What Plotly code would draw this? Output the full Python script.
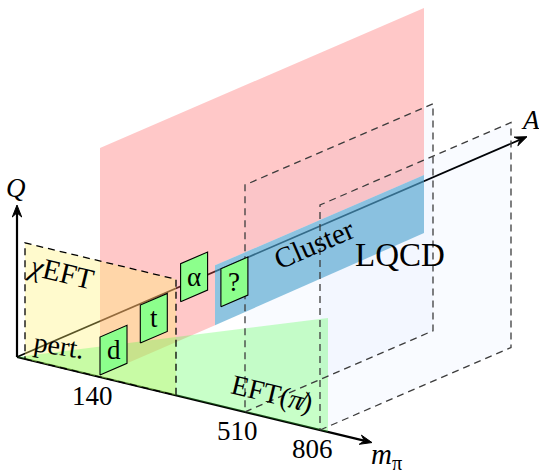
import numpy as np
import plotly.graph_objects as go

# ---------------- data (schematic values) ----------------
mpi_ticks = [140, 510, 806]                 # pion masses marked on the m_pi axis (MeV)
tick_labels = ["140", "510", "806"]
nuclei = ["d", "t", "α", "?"]               # few-body systems at the physical point
nuclei_A = [2, 3, 4, 5]                     # mass number of each system
nuclei_Q = [21, 35.5, 59.5, 37]             # schematic momentum scale (diagram units)
region_names = ["<i>χ</i>EFT", "pert.", "Cluster", "LQCD", "EFT(<i>π̸</i>)"]

# ---------------- layout / projection ----------------
W, H = 539, 476
OX, OY = 17.0, 357.0          # projected origin
EM = np.array([1.0, 0.241])   # m_pi direction
EA = np.array([1.0, -0.432])  # A direction
EQ = np.array([0.0, -1.0])    # Q direction

def P(m, A, Q):
    v = np.array([OX, OY]) + m * EM + A * EA + Q * EQ
    return float(v[0]), float(v[1])

# map pion mass -> depth along m axis (schematic, not to scale)
m_pos = dict(zip(mpi_ticks, [83, 228, 303]))
def A_pos(a):
    return 13.5 + 40.3 * (a - 2)

fig = go.Figure()

def poly(pts3, fill, line=None, dash=None, width=0):
    xs, ys = zip(*[P(*p) for p in pts3])
    xs = list(xs) + [xs[0]]
    ys = list(ys) + [ys[0]]
    fig.add_trace(go.Scatter(
        x=xs, y=ys, mode="lines", fill="toself" if fill else None,
        fillcolor=fill, line=dict(color=line or "rgba(0,0,0,0)", width=width, dash=dash),
        hoverinfo="skip", showlegend=False))

def seg(p0, p1, color="black", width=2.0, dash=None):
    x0, y0 = P(*p0); x1, y1 = P(*p1)
    fig.add_trace(go.Scatter(x=[x0, x1], y=[y0, y1], mode="lines",
                             line=dict(color=color, width=width, dash=dash),
                             hoverinfo="skip", showlegend=False))

def arrow(p_tip3, direction, L=12, hw=4.7):
    tx, ty = P(*p_tip3)
    d = np.array(direction, float); d /= np.linalg.norm(d)
    n = np.array([-d[1], d[0]])
    b = np.array([tx, ty]) - L * d
    pts = [(tx, ty), tuple(b + hw * n), tuple(b + 0.35 * L * d), tuple(b - hw * n), (tx, ty)]
    xs, ys = zip(*pts)
    fig.add_trace(go.Scatter(x=xs, y=ys, mode="lines", fill="toself", fillcolor="black",
                             line=dict(color="black", width=1), hoverinfo="skip", showlegend=False))

# ---- axes (drawn first, so translucent planes tint them) ----
QTIP, MTIP, ATIP = 152, 355, 510
seg((0, 0, 0), (0, 0, QTIP - 8), width=2.2)
seg((0, 0, 0), (MTIP - 8, 0, 0), width=2.2)
seg((0, 0, 0), (0, ATIP - 8, 0), width=1.7)
arrow((0, 0, QTIP), EQ)
arrow((MTIP, 0, 0), EM)
arrow((0, ATIP, 0), EA)

# ---- LQCD planes (faint fill) ----
lq = [(m_pos[510], 188, 227), (m_pos[806], 191, 225)]
for m, a, q in lq:
    poly([(m, 0, 0), (m, a, 0), (m, a, q), (m, 0, q)], "rgba(40,120,255,0.028)")

# ---- physical-point plane (red) and cluster region (blue) ----
mr = m_pos[140]
poly([(mr, 0, 2), (mr, 115, 2), (mr, 115, 62), (mr, 324, 62), (mr, 324, 229), (mr, 0, 229)],
     "rgba(255,98,98,0.35)")
poly([(mr, 115, 2), (mr, 324, 4), (mr, 324, 62), (mr, 115, 62)], "rgba(81,164,207,0.65)")

# ---- chiral EFT (yellow) and pionless EFT (green) ----
poly([(8, 0, 0), (159, 0, 0), (159, 0, 116), (8, 0, 116)], "rgba(255,241,112,0.35)")
poly([(0, 0, 0), (311, 0, 0), (311, 0, 114)], "rgba(72,255,72,0.3)")

# ---- dashed outlines ----
DASH = "7px,5px"
for m, a, q in lq:
    poly([(m, 0, 0), (m, a, 0), (m, a, q), (m, 0, q)], None,
         line="rgb(60,60,60)", dash=DASH, width=1.3)
poly([(8, 0, 0), (159, 0, 0), (159, 0, 116), (8, 0, 116)], None,
     line="black", dash=DASH, width=1.3)

# ---- nuclei boxes ----
BW, BH = 27, 38
annotations = []
for name, a, q in zip(nuclei, nuclei_A, nuclei_Q):
    ac = A_pos(a)
    pts = [(mr, ac - BW / 2, q - BH / 2), (mr, ac + BW / 2, q - BH / 2),
           (mr, ac + BW / 2, q + BH / 2), (mr, ac - BW / 2, q + BH / 2)]
    poly(pts, "rgb(140,255,140)", line="black", width=1.1)
    cx, cy = P(mr, ac, q)
    annotations.append(dict(x=cx, y=cy, text=name, showarrow=False,
                            font=dict(size=27, family="Liberation Serif", color="black"),
                            xanchor="center", yanchor="middle"))

# ---- labels ----
FONT = "Liberation Serif"
def label(xy, text, size, angle=0):
    annotations.append(dict(x=xy[0], y=xy[1], text=text, showarrow=False,
                            font=dict(size=size, family=FONT, color="black"),
                            xanchor="center", yanchor="middle", textangle=angle))

for v, t in zip(mpi_ticks, tick_labels):
    x, y = P(m_pos[v], 0, 0)
    label((x - 8, y + 19), t, 27)

qx, qy = P(0, 0, QTIP)
label((qx - 1, qy - 17), "<i>Q</i>", 27)
ax_, ay_ = P(0, ATIP, 0)
label((ax_ + 3, ay_ - 17), "<i>A</i>", 27)
mx, my = P(MTIP, 0, 0)
label((mx + 14, my + 13), "<i>m</i><sub>π</sub>", 29)

label((61, 272), region_names[0], 29, 13.6)
label((59, 345), region_names[1], 28, 9)
label((314, 244), region_names[2], 29, -23.4)
label(P(m_pos[806], 80, 140.7), region_names[3], 33)
label((272, 393), region_names[4], 28, 13.6)

fig.update_layout(
    width=W, height=H, autosize=False,
    margin=dict(l=0, r=0, t=0, b=0, pad=0),
    paper_bgcolor="white", plot_bgcolor="white",
    xaxis=dict(range=[0, W], visible=False, fixedrange=True),
    yaxis=dict(range=[H, 0], visible=False, fixedrange=True),
    annotations=annotations, showlegend=False,
)
fig.write_html("out.html", config={"displayModeBar": False},
               post_script="document.body.style.margin='0px';document.body.style.overflow='hidden';")
